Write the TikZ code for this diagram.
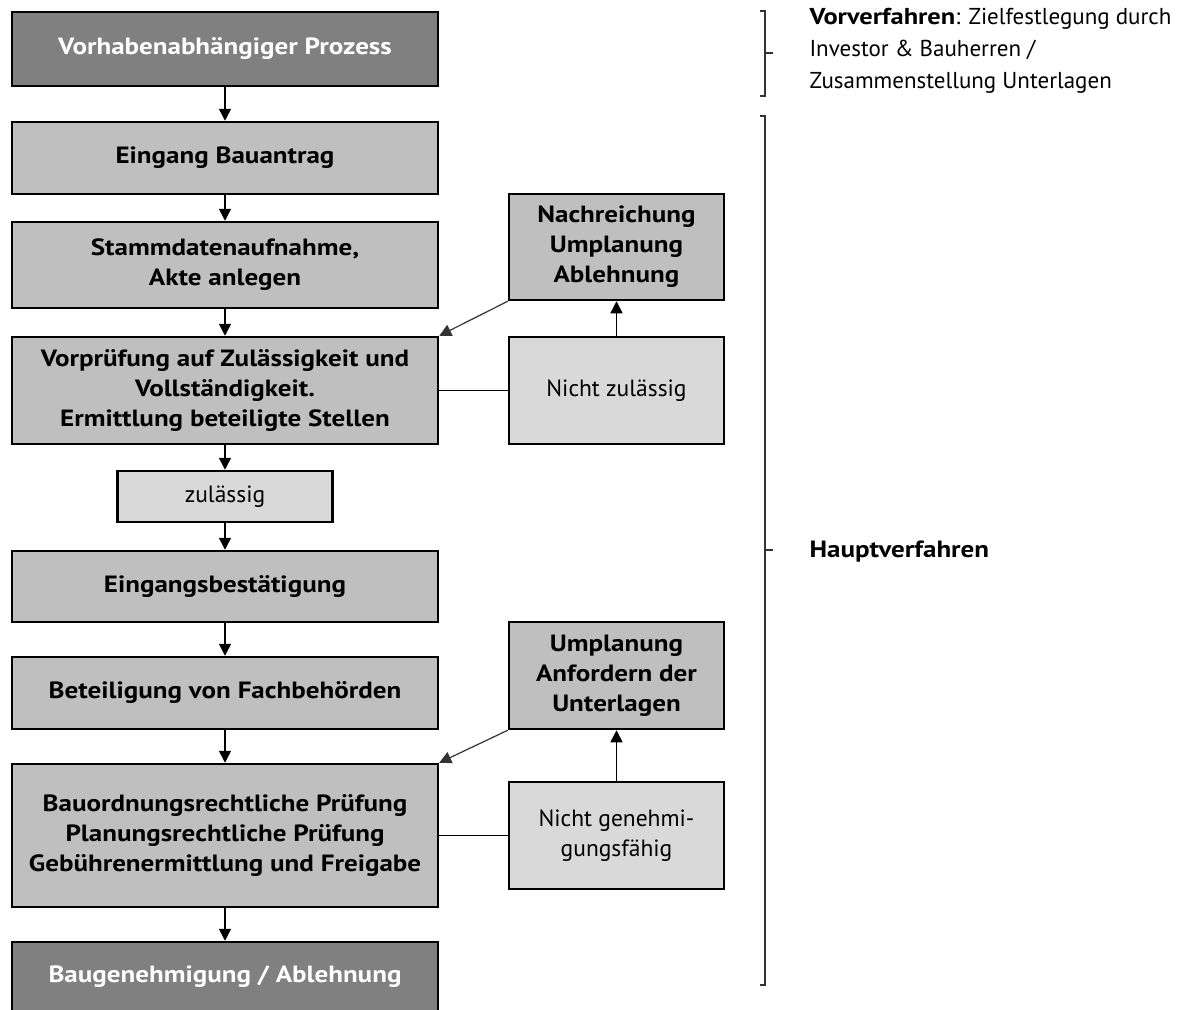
\documentclass[tikz,border=0pt]{standalone}
\usepackage{fontspec}
\setmainfont{PT Sans}[BoldFeatures={FakeStretch=1.15}]
\usetikzlibrary{arrows.meta}

\tikzset{
    schritt/.style={draw, line width=2.5pt, fill=gray!50, minimum width=426pt,
        inner sep=0pt, align=center, font=\bfseries\fontsize{23.5}{30}\selectfont},
    ende/.style={schritt, fill=gray, text=white},
    seite/.style={schritt, minimum width=215pt},
    hinweis/.style={seite, fill=gray!30, font=\fontsize{23.5}{30}\selectfont},
    klammer/.style={line width=1.2pt, black!80},
}

\begin{document}
\begin{tikzpicture}[x=1pt, y=-1pt, >={Triangle[length=12pt,width=12pt]}]
    \useasboundingbox (0,0) rectangle (1199,1009);

    % Hauptspalte
    \node[ende, minimum height=74pt] (vorhaben) at (225,49) {Vorhabenabhängiger Prozess};
    \node[schritt, minimum height=72pt] (eingang) at (225,158) {Eingang Bauantrag};
    \node[schritt, minimum height=86pt] (stamm) at (225,265) {Stammdatenaufnahme,\\Akte anlegen};
    \node[schritt, minimum height=107pt] (vorpruef) at (225,390.5) {Vorprüfung auf Zulässigkeit und\\Vollständigkeit.\\Ermittlung beteiligte Stellen};
    \node[hinweis, minimum height=51pt] (zul) at (225,496.5) {zulässig};
    \node[schritt, minimum height=71pt] (bestaet) at (225,586.5) {Eingangsbestätigung};
    \node[schritt, minimum height=72pt] (beteil) at (225,693) {Beteiligung von Fachbehörden};
    \node[schritt, minimum height=143pt] (pruef) at (225,835.5) {Bauordnungsrechtliche Prüfung\\Planungsrechtliche Prüfung\\Gebührenermittlung und Freigabe};
    \node[ende, minimum height=70pt] (baugen) at (225,977) {Baugenehmigung / Ablehnung};

    \foreach \a/\b in {vorhaben/eingang, eingang/stamm, stamm/vorpruef, vorpruef/zul,
                       zul/bestaet, bestaet/beteil, beteil/pruef, pruef/baugen}
        \draw[->, line width=1.5pt] (\a) -- (\b);

    % Seitenzweige
    \node[seite, minimum height=106pt] (nachr) at (616.5,247) {Nachreichung\\Umplanung\\Ablehnung};
    \node[hinweis, minimum height=107pt] (nichtzul) at (616.5,390.5) {Nicht zulässig};
    \node[seite, minimum height=107pt] (umplan) at (616.5,675.5) {Umplanung\\Anfordern der\\Unterlagen};
    \node[hinweis, minimum height=107pt] (nichtgen) at (616.5,835.5) {Nicht genehmi-\\gungsfähig};

    \draw[line width=1.5pt] (vorpruef) -- (nichtzul);
    \draw[->, line width=1.5pt] (nichtzul) -- (nachr);
    \draw[->, line width=1.2pt, black!80] (nachr.south west) -- (vorpruef.north east);

    \draw[line width=1.5pt] (pruef) -- (nichtgen);
    \draw[->, line width=1.5pt] (nichtgen) -- (umplan);
    \draw[->, line width=1.2pt, black!80] (umplan.south west) -- (pruef.north east);

    % Klammern rechts
    \draw[klammer] (760,11) -- (765,11) -- (765,96) -- (760,96);
    \draw[klammer] (765,53) -- (773,53);
    \draw[klammer] (760,116) -- (765,116) -- (765,985) -- (760,985);
    \draw[klammer] (765,550) -- (773,550);

    \node[anchor=west, align=left, font=\fontsize{23}{32}\selectfont] (vorv) at (806,51)
        {\textbf{Vorverfahren}: Zielfestlegung durch\\Investor \& Bauherren /\\Zusammenstellung Unterlagen};
    \node[anchor=west, font=\bfseries\fontsize{23.5}{30}\selectfont] (haupt) at (806,552) {Hauptverfahren};

\end{tikzpicture}
\end{document}
